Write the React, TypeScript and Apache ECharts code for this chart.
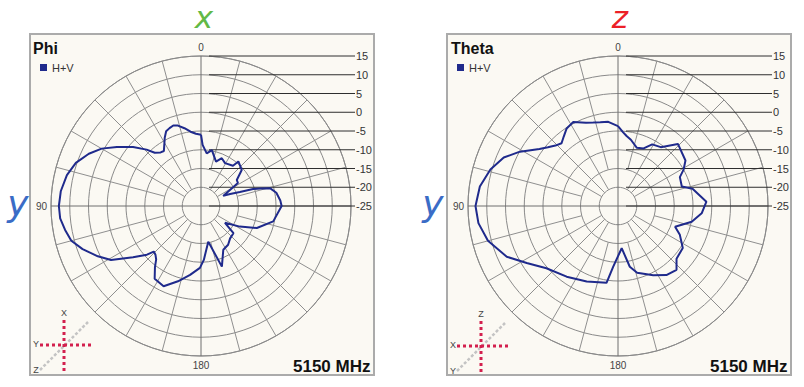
import React, { useEffect, useRef } from 'react';
import * as echarts from 'echarts';

// Phi cut (x-y plane), angle in degrees counter-clockwise from top, gain in dB
const phiAngles = [0, 4, 8, 12, 16, 19, 22, 25, 28, 30, 34, 37, 41, 44, 49, 55, 60, 65, 71, 77, 84, 90, 95, 100, 105, 110, 116, 121, 127, 132, 134, 137, 140, 143, 147.5, 155, 163, 171, 179, 183, 191.5, 199, 207, 215, 222, 230, 235, 242, 248.5, 258, 270, 274, 280, 284.5, 286.5, 288, 289.7, 292.5, 294.5, 302, 306, 311.5, 320, 321.5, 330.7, 336.5, 341.3, 349, 353.8, 358.5, 360];
const phiValues = [-6.0, -5.7, -5.0, -3.8, -2.7, -2.3, -2.6, -3.0, -4.4, -5.5, -7.3, -7.1, -6.2, -4.1, -1.0, 2.4, 5.6, 8.0, 10.3, 11.7, 12.6, 12.9, 12.7, 11.8, 10.8, 8.6, 5.6, 3.0, -2.3, -5.6, -7.5, -7.2, -6.4, -4.6, -2.0, -1.4, -4.0, -6.4, -8.5, -10.6, -15.3, -7.9, -11.9, -12.4, -13.4, -13.7, -17.2, -13.3, -9.0, -5.3, -3.5, -3.8, -4.6, -6.0, -8.5, -10.4, -14.0, -16.6, -18.5, -13.4, -13.2, -10.5, -9.5, -11.3, -11.9, -11.1, -12.5, -9.8, -10.9, -8.7, -6.0];

// Theta cut (y-z plane)
const thetaAngles = [0, 6.6, 12, 16.5, 21, 28, 33.5, 38, 42, 46, 50, 54, 61, 67, 74, 82, 90, 97, 105, 114.5, 122, 131, 144, 157.5, 171.5, 175.5, 185, 191, 196, 207, 215, 222.5, 228, 237, 245, 250, 258, 265, 272.8, 283, 287, 295, 299, 304, 316, 324, 331, 336, 342, 349, 353, 356, 360];
const thetaValues = [-3.7, -2.4, -2.2, -1.8, -1.2, 0.4, -0.2, -1.5, -2.5, -1.8, -0.6, 0.9, 4.9, 8.1, 10.4, 12.2, 13.0, 12.5, 10.9, 7.6, 3.7, 0.3, -1.7, -3.2, -4.3, -8.8, -13.7, -8.5, -6.5, -4.3, -2.5, -1.9, -4.0, -4.4, -6.8, -8.8, -4.9, -2.6, -1.4, -4.6, -7.2, -6.8, -5.0, -3.3, -2.0, -5.6, -6.2, -8.2, -8.7, -7.0, -6.2, -5.3, -3.7];

const radiusTicks = [15, 10, 5, 0, -5, -10, -15, -20, -25];
const angleLabels = [0, 90, 180];
const spokeAngles = [0, 15, 30, 45, 60, 75, 90, 105, 120, 135, 150, 165, 180, 195, 210, 225, 240, 255, 270, 285, 300, 315, 330, 345];
const panelTitles = ['Phi', 'Theta'];
const frequencyLabel = '5150 MHz';
const seriesName = 'H+V';

const FONT = '"Liberation Sans", Arial, sans-serif';
const CURVE = '#1F2A8C';

function spokeStart(a: number) {
  if (a % 90 === 0) return -25;
  if (a % 30 === 0 || a % 45 === 0) return -20;
  return -15;
}

function coordIcon(cx: number, cy: number, top: string, left: string, diag: string) {
  const red = '#D3204E';
  return [
    { type: 'line', z: 20, shape: { x1: cx - 24, y1: cy + 25, x2: cx + 24, y2: cy - 23 }, style: { stroke: '#c4c4c4', lineWidth: 2.5, lineDash: [3, 2] } },
    { type: 'line', z: 21, shape: { x1: cx, y1: cy - 25, x2: cx, y2: cy + 27 }, style: { stroke: red, lineWidth: 3, lineDash: [3, 3] } },
    { type: 'line', z: 21, shape: { x1: cx - 24, y1: cy, x2: cx + 27, y2: cy }, style: { stroke: red, lineWidth: 3, lineDash: [3, 3] } },
    { type: 'text', z: 22, x: cx, y: cy - 32, style: { text: top, fill: '#444', fontSize: 9, fontFamily: FONT, align: 'center', verticalAlign: 'middle' } },
    { type: 'text', z: 22, x: cx - 28, y: cy - 1, style: { text: left, fill: '#444', fontSize: 9, fontFamily: FONT, align: 'center', verticalAlign: 'middle' } },
    { type: 'text', z: 22, x: cx - 28, y: cy + 25, style: { text: diag, fill: '#444', fontSize: 9, fontFamily: FONT, align: 'center', verticalAlign: 'middle' } },
  ];
}

export default function App() {
  const ref = useRef<HTMLDivElement>(null);
  useEffect(() => {
    if (!ref.current) return;
    const chart = echarts.init(ref.current, null, { renderer: 'svg' });
    const centers = [[201, 206], [618, 206]];
    const boxes = [[30, 34], [447, 34]];

    const angleAxis = centers.map((_, i) => ({
      polarIndex: i,
      type: 'value',
      min: 0,
      max: 360,
      interval: 15,
      startAngle: 90,
      clockwise: false,
      axisLine: { show: true, lineStyle: { color: '#8a8a8a', width: 1 } },
      axisTick: { show: false },
      splitLine: { show: false },
      axisLabel: {
        margin: 4,
        color: '#444',
        fontSize: 10,
        fontFamily: FONT,
        formatter: (v: number) => (angleLabels.includes(v) ? String(v) : ''),
      },
    }));
    const radiusAxis = centers.map((_, i) => ({
      polarIndex: i,
      type: 'value',
      min: -25,
      max: 15,
      interval: 5,
      axisLine: { show: false },
      axisTick: { show: false },
      axisLabel: { show: false },
      splitLine: { show: true, lineStyle: { color: '#8a8a8a', width: 1 } },
    }));

    const curves = [
      phiAngles.map((a, i) => [phiValues[i], a]),
      thetaAngles.map((a, i) => [thetaValues[i], a]),
    ];

    const series: any[] = [];
    centers.forEach((_, i) => {
      series.push({
        type: 'custom',
        name: 'spokes' + i,
        coordinateSystem: 'polar',
        polarIndex: i,
        silent: true,
        z: 1,
        data: spokeAngles.map((a) => [spokeStart(a), a]),
        renderItem: (params: any, api: any) => {
          const p1 = api.coord([api.value(0), api.value(1)]);
          const p2 = api.coord([15, api.value(1)]);
          const card = api.value(0) === -25;
          return {
            type: 'line',
            shape: { x1: p1[0], y1: p1[1], x2: p2[0], y2: p2[1] },
            style: { stroke: card ? '#6f6f6f' : '#8f8f8f', lineWidth: 1 },
          };
        },
      });
      series.push({
        type: 'custom',
        name: 'ticks' + i,
        coordinateSystem: 'polar',
        polarIndex: i,
        silent: true,
        z: 3,
        data: radiusTicks.map((v) => [v, 0]),
        renderItem: (params: any, api: any) => {
          const v = api.value(0);
          const p = api.coord([v, 0]);
          const c = api.coord([-25, 0]);
          return {
            type: 'group',
            children: [
              { type: 'line', shape: { x1: c[0] + 8, y1: p[1], x2: c[0] + 154, y2: p[1] }, style: { stroke: '#2e2e2e', lineWidth: 1 } },
              { type: 'text', x: c[0] + 155, y: p[1], style: { text: String(v), fill: '#333', fontSize: 11, fontFamily: FONT, align: 'left', verticalAlign: 'middle' } },
            ],
          };
        },
      });
      series.push({
        type: 'line',
        name: seriesName,
        coordinateSystem: 'polar',
        polarIndex: i,
        data: curves[i],
        showSymbol: false,
        symbol: 'none',
        clip: false,
        z: 5,
        lineStyle: { color: CURVE, width: 2 },
        itemStyle: { color: CURVE },
      });
    });

    const graphic: any[] = [];
    boxes.forEach(([x, y]) => {
      graphic.push({ type: 'rect', z: -100, shape: { x, y, width: 344, height: 341 }, style: { fill: '#FBF9F3', stroke: '#ABABAB', lineWidth: 2 } });
    });
    const big = (text: string, x: number, y: number, color: string, va: string, size: number) => ({
      type: 'text', z: 30, x, y,
      style: { text, fill: color, fontSize: size, fontStyle: 'italic', fontFamily: '"DejaVu Sans", sans-serif', align: 'center', verticalAlign: va },
    });
    graphic.push(big('x', 204, 1, '#62B946', 'top', 31));
    graphic.push(big('z', 620, 1, '#EC2027', 'top', 31));
    graphic.push(big('y', 18, 203, '#3A6CC6', 'middle', 36));
    graphic.push(big('y', 433, 203, '#3A6CC6', 'middle', 36));
    graphic.push(...coordIcon(64, 345, 'X', 'Y', 'Z'));
    graphic.push(...coordIcon(481, 346, 'Z', 'X', 'Y'));

    const titleStyle = { fontSize: 16, fontWeight: 'bold', color: '#111', fontFamily: FONT };
    const freqStyle = { fontSize: 17, fontWeight: 'bold', color: '#111', fontFamily: FONT };

    chart.setOption({
      animation: false,
      backgroundColor: '#ffffff',
      title: [
        { text: panelTitles[0], left: 33, top: 40, padding: 0, textStyle: titleStyle },
        { text: panelTitles[1], left: 451, top: 40, padding: 0, textStyle: titleStyle },
        { text: frequencyLabel, left: 293, top: 358, padding: 0, textStyle: freqStyle },
        { text: frequencyLabel, left: 710, top: 358, padding: 0, textStyle: freqStyle },
      ],
      legend: boxes.map(([x]) => ({
        data: [seriesName],
        left: x + 10,
        top: 62,
        padding: 0,
        itemWidth: 7,
        itemHeight: 7,
        itemGap: 0,
        icon: 'rect',
        selectedMode: false,
        textStyle: { fontSize: 11, color: '#333', fontFamily: FONT },
      })),
      polar: centers.map((c) => ({ center: c, radius: 150 })),
      angleAxis,
      radiusAxis,
      series,
      graphic: { elements: graphic },
    });
    return () => chart.dispose();
  }, []);
  return <div ref={ref} style={{ position: 'absolute', left: 0, top: 0, width: 804, height: 387 }} />;
}
